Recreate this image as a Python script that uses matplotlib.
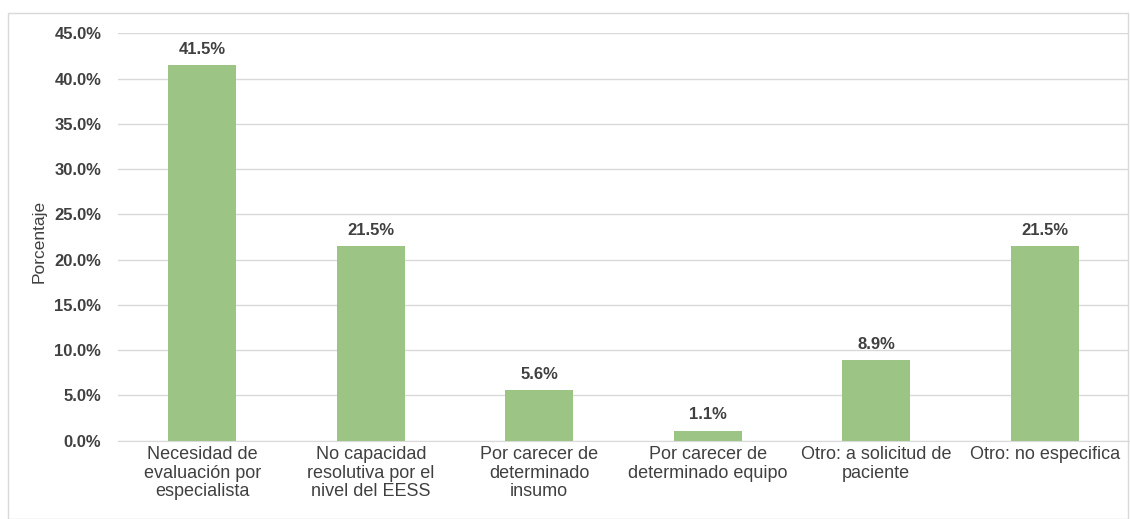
import matplotlib
matplotlib.use("Agg")
import matplotlib.pyplot as plt
from matplotlib.patches import Rectangle

categories = [
    "Necesidad de\nevaluación por\nespecialista",
    "No capacidad\nresolutiva por el\nnivel del EESS",
    "Por carecer de\ndeterminado\ninsumo",
    "Por carecer de\ndeterminado equipo",
    "Otro: a solicitud de\npaciente",
    "Otro: no especifica",
]
values = [41.5, 21.5, 5.6, 1.1, 8.9, 21.5]
yticks = [0, 5, 10, 15, 20, 25, 30, 35, 40, 45]
ylabel = "Porcentaje"

plt.rcParams['font.family'] = ['Liberation Sans', 'DejaVu Sans']

fig = plt.figure(figsize=(11.3, 5.19), dpi=100)
ax = fig.add_axes([118/1130, (519-440.7)/519, (1129-118)/1130, (440.7-33.3)/519])

x = list(range(len(categories)))
ax.bar(x, values, width=0.405, color="#9cc485", zorder=3)
ax.set_xlim(-0.5, len(categories) - 0.5)
ax.set_ylim(0, 45)
ax.set_yticks(yticks)
ax.set_yticklabels([f"{t:.1f}%" for t in yticks], fontsize=12, fontweight='bold', color="#404040")
ax.set_xticks(x)
ax.set_xticklabels(categories, fontsize=13, color="#404040", linespacing=1.12)
ax.tick_params(axis='both', length=0)
ax.tick_params(axis='y', pad=12)
ax.tick_params(axis='x', pad=4)
ax.grid(axis='y', color="#d9d9d9", linewidth=1, zorder=0)
for s in ['top', 'right', 'left']:
    ax.spines[s].set_visible(False)
ax.spines['bottom'].set_color("#d9d9d9")
ax.set_ylabel(ylabel, fontsize=12.5, color="#404040")
ax.yaxis.set_label_coords(-0.071, 0.49)

for xi, v in zip(x, values):
    ax.annotate(f"{v:.1f}%", (xi, v), xytext=(0, 6), textcoords='offset points',
                ha='center', va='bottom', fontsize=12, fontweight='bold', color="#404040")

fig.patches.append(Rectangle((8/1130, 0), (1128-8)/1130, (519-13)/519, transform=fig.transFigure,
                             fill=False, edgecolor="#d9d9d9", linewidth=1))

fig.savefig("out.png", dpi=100, facecolor="white")
